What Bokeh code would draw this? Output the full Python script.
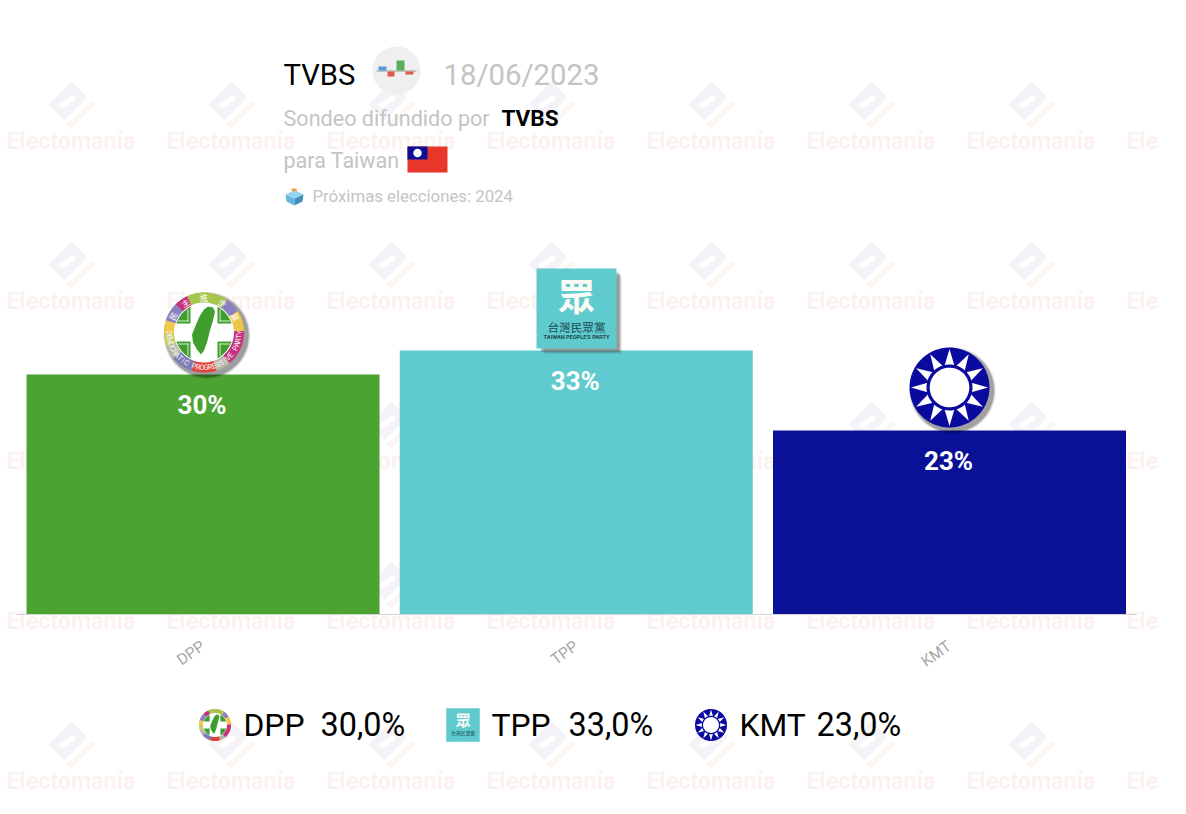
import numpy as np
from bokeh.plotting import figure
from bokeh.models import ColumnDataSource, Range1d, Label, PolyAnnotation, FixedTicker, LinearAxis
from bokeh.core.properties import value
from bokeh.embed import file_html
from bokeh.resources import INLINE

categories = ["DPP", "TPP", "KMT"]
values = [30.0, 33.0, 23.0]
bar_colors = ["#4ba331", "#5fcbcf", "#0a1196"]
bar_labels = ["30%", "33%", "23%"]
pollster = "TVBS"
poll_date = "18/06/2023"
country = "Taiwan"
next_election = "2024"

W, H = 1170, 810
BASE_Y, PX_PER_UNIT = 614, 8.0
BAND, FIRST = 373.25, 202.5
FONT = "Roboto"

positions = list(range(len(categories)))
p = figure(width=W, height=H, output_backend="svg", toolbar_location=None, tools="",
           x_range=Range1d(-FIRST/BAND, (W-FIRST)/BAND),
           y_range=Range1d((BASE_Y-H)/PX_PER_UNIT, BASE_Y/PX_PER_UNIT),
           min_border_left=0, min_border_right=0, min_border_top=0, min_border_bottom=0,
           x_axis_location=None, y_axis_location=None)
p.outline_line_color = None
p.background_fill_color = None
p.border_fill_color = "white"
p.grid.visible = False

ax = LinearAxis(fixed_location=0, ticker=FixedTicker(ticks=positions),
                major_label_overrides={i: c for i, c in zip(positions, categories)},
                bounds=(-0.5, 2.5))
ax.axis_line_color = "#d2d2d2"
ax.major_tick_line_color = None
ax.minor_tick_line_color = None
ax.major_label_text_color = "#a6a6a6"
ax.major_label_text_font = FONT
ax.major_label_text_font_size = "15.5px"
ax.major_label_orientation = 0.62
ax.major_label_standoff = 24
p.add_layout(ax, "below")

def X(v):
    return np.asarray(v, dtype=float)
def Y(v):
    return H - np.asarray(v, dtype=float)

def poly(xs, ys, color, alpha=1.0, level="overlay"):
    p.add_layout(PolyAnnotation(xs=list(X(xs)), ys=list(Y(ys)), xs_units="screen", ys_units="screen",
                                fill_color=color, fill_alpha=alpha, line_color=None, level=level))

def disc(cx, cy, r, color, alpha=1.0, a0=0.0, a1=360.0, n=72, level="overlay"):
    t = np.radians(np.linspace(a0, a1, n))
    xs, ys = cx + r*np.cos(t), cy + r*np.sin(t)
    if a1 - a0 < 360:
        xs, ys = np.r_[cx, xs], np.r_[cy, ys]
    poly(xs, ys, color, alpha, level)

def rect(x0, y0, x1, y1, color, alpha=1.0, level="overlay"):
    poly([x0, x1, x1, x0], [y0, y0, y1, y1], color, alpha, level)

def txt(x, y, s, size, color, style="normal", font=FONT, align="left", base="alphabetic", angle=0.0, level="overlay"):
    if base == "alphabetic":
        y = y - 0.33*size
        x = x - 1 if align == "left" else x
    p.add_layout(Label(x=float(X(x)), y=float(Y(y)), x_units="screen", y_units="screen", text=s,
                       text_font=font, text_font_size=f"{size}px", text_color=color, text_font_style=style,
                       text_align=align, text_baseline=base, angle=angle, level=level))

# watermark
for row in range(0, 5):
    for col in range(8):
        dx, dy = 160*col, 160*row
        if col < 7:
            poly(np.array([71, 48, 64, 87]) + dx, np.array([81, 104, 120, 97]) + dy, "#f5f2f8", level="underlay")
            poly(np.array([71, 57, 62, 76]) + dx, np.array([95, 105, 108, 98]) + dy, "white", level="underlay")
            poly(np.array([65, 70, 96, 91, 70]) + dx, np.array([122, 129, 103, 100, 121]) + dy, "#fbf6f2", level="underlay")
        txt(7+dx, 148.5+dy, "Electomanía" if col < 7 else "Ele", 23.2, "#fbf2f0", "bold", level="underlay")

source = ColumnDataSource(dict(x=positions, val=values, color=bar_colors, label=bar_labels))
p.vbar(x="x", top="val", bottom=0, width=353/BAND, fill_color="color", line_color=None, source=source)
p.text(x="x", y="val", text="label", source=source, text_color="white", text_align="center",
       text_baseline="middle", x_offset=-1, y_offset=30, text_font=value(FONT), text_font_size="26px", text_font_style="bold")

# header
txt(284, 84, pollster, 29.2, "#000000")
disc(396, 70, 24, "#f0eff0")
rect(376, 70, 416, 71, "#9a9a9a")
rect(378, 66, 386, 70, "#5b9bd5")
rect(387, 71, 394, 76, "#dd5a4c")
rect(396, 60, 404, 70, "#5fae5f")
rect(405, 71, 413, 74, "#dd5a4c")
txt(444, 84, poll_date, 29.3, "#c4c4c4")
txt(284, 125, "Sondeo difundido por", 21.6, "#c4c4c4")
txt(502, 125, pollster, 22.5, "#000000", "bold")
txt(284, 167.5, f"para {country}", 21.5, "#c4c4c4")
rect(407, 146, 447, 172, "#e8362a")
rect(407, 146, 427, 159, "#0a0f96")
disc(417, 152.5, 4.2, "white")
# ballot box
poly([291, 296, 297, 292], [188, 188, 195, 195], "#f0983a")
poly([285, 294, 303, 294], [194, 190, 194, 198], "#93d5ee")
poly([285, 294, 294, 286], [194, 198, 205, 201], "#67b5dd")
poly([294, 303, 302, 294], [198, 194, 201, 205], "#438fc0")
txt(313, 201, f"Próximas elecciones: {next_election}", 16.8, "#c4c4c4")

# party logos
RING_C = ["#a7c64e", "#8a82c0", "#f0c445", "#c9307e", "#b8b6a8", "#e0433a", "#7c7cba", "#b8b6a8", "#c8cf6a", "#f3c94b", "#8a82c0", "#c9307e"]
RING_A = [(-115, -55), (-55, -32), (-32, -2), (-2, 50), (50, 72), (72, 108), (108, 140), (140, 160), (160, 178), (178, 198), (198, 225), (225, 245)]

def dpp(cx, cy, r, detail=True):
    s = r/40.0
    if detail:
        for o, a in [(8, .04), (7, .05), (6, .06), (5, .08), (4, .1), (3, .12)]:
            disc(cx+3, cy+3, r+o*.45, "#000000", a)
    disc(cx, cy, r, "#b8b6a8")
    for (a0, a1), c in zip(RING_A, RING_C):
        disc(cx, cy, r, c, 1, a0, a1, n=24)
    disc(cx, cy, 30*s, "#ffffff")
    ax_, ay_, r2 = 13.5*s, 9.0*s, 29*s
    arc = np.linspace(np.arcsin(ay_/r2), np.arccos(ax_/r2), 12)
    qx = np.r_[ax_, r2*np.cos(arc)]
    qy = np.r_[ay_, r2*np.sin(arc)]
    for sx, sy in [(1, 1), (1, -1), (-1, 1), (-1, -1)]:
        poly(cx + sx*qx, cy + sy*qy, "#3f9e2e")
        if detail:
            rect(cx + sx*(ax_+2), cy + sy*(ay_+2), cx + sx*(26*s), cy + sy*(ay_+3), "#ffffff", .8)
            rect(cx + sx*(ax_+2), cy + sy*(ay_+2), cx + sx*(ax_+3), cy + sy*(23*s), "#ffffff", .8)
    ix = np.array([4, 9, 11, 9, 6, 3, 0, -3, -7, -11, -12, -8, -4, 0])*s
    iy = np.array([-26, -25, -21, -12, -2, 10, 18, 22, 17, 10, 2, -8, -17, -23])*s
    poly(cx + ix, cy + iy, "#3f9e2e")
    if detail:
        for ch, ang in zip("民主進步黨", [-152, -122, -90, -58, -26]):
            a = np.radians(ang)
            txt(cx + 35*np.cos(a), cy + 35*np.sin(a), ch, 8, "white", font="Noto Sans CJK TC",
                align="center", base="middle", angle=float(-(a + np.pi/2)))
        letters = "DEMOCRATIC PROGRESSIVE PARTY"
        for ch, ang in zip(letters, np.linspace(180, 0, len(letters))):
            a = np.radians(ang)
            txt(cx + 35*np.cos(a), cy + 35*np.sin(a), ch, 7.5, "#f4f4f4", align="center", base="middle",
                angle=float(-(a - np.pi/2)))

def tpp(x0, y0, size, detail=True):
    s = size/80.0
    if detail:
        for o, a in [(8, .06), (7, .10), (6, .14), (5, .18), (4, .22)]:
            rect(x0+o, y0+o, x0+size+o*.7, y0+size+o*.7, "#444444", a)
    else:
        rect(x0-0.5, y0-0.5, x0+size+0.5, y0+size+0.5, "#aee3e5")
    rect(x0, y0, x0+size, y0+size, "#5fcbcf")
    txt(x0+size/2, y0+26*s, "眾", 37*s, "#fbfaf4", "bold", font="Noto Sans CJK TC", align="center", base="middle")
    txt(x0+size/2, y0+58*s, "台灣民眾黨", 11.6*s, "#1d4a4e", font="Noto Sans CJK TC", align="center", base="middle")
    if detail:
        txt(x0+size/2, y0+68*s, "TAIWAN PEOPLE'S PARTY", 5.6*s, "#1d4a4e", "bold", align="center", base="middle")

def kmt(cx, cy, r, detail=True):
    s = r/40.0
    if detail:
        for o, a in [(8, .03), (7, .04), (6, .06), (5, .08), (4, .1), (3, .12)]:
            disc(cx+3, cy+3, r+o*.45, "#000000", a)
    disc(cx, cy, r, "#0a0b9e")
    w = np.radians(12.5)
    for k in range(12):
        a = np.radians(-90 + 30*k)
        poly(cx + s*np.array([38.5*np.cos(a), 22.5*np.cos(a-w), 22.5*np.cos(a+w)]),
             cy + s*np.array([38.5*np.sin(a), 22.5*np.sin(a-w), 22.5*np.sin(a+w)]), "white")
    disc(cx, cy, 23*s, "#0a0b9e")
    disc(cx, cy, 19.8*s, "white")

dpp(203.5, 332, 40)
tpp(536, 268, 80)
kmt(949, 387, 40)

# legend
logo_x = [214.5, 446, 710.5]
name_x = [244, 492, 740]
val_x = [321, 569, 817]
dpp(logo_x[0], 724.5, 16, detail=False)
tpp(logo_x[1], 708, 33, detail=False)
kmt(logo_x[2], 724.5, 16, detail=False)
for c, v, nx, vx in zip(categories, values, name_x, val_x):
    txt(nx, 735, c, 31.8, "#000000")
    txt(vx, 735, f"{v:.1f}".replace(".", ",") + "%", 32.4, "#000000")

open("out.html", "w").write(file_html(p, INLINE))
